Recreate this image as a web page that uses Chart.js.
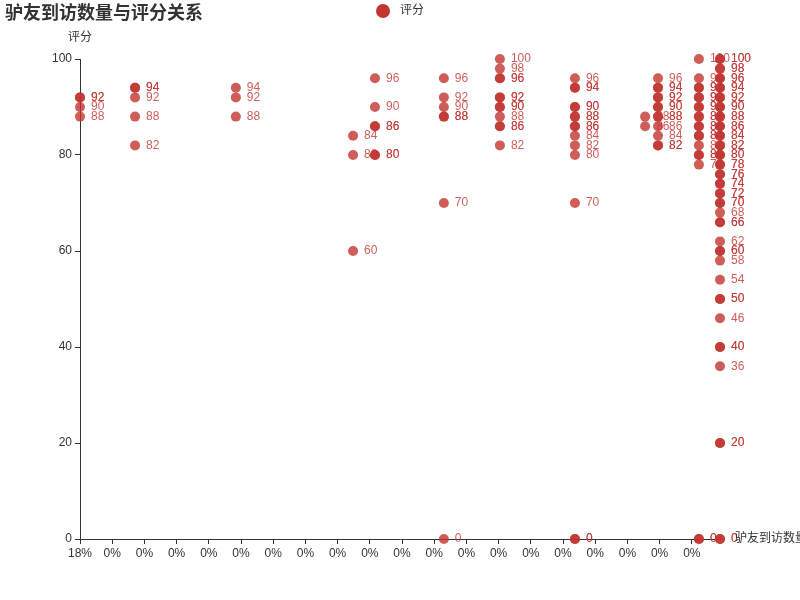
<!DOCTYPE html>
<html lang="zh">
<head>
    <meta charset="UTF-8">
    <title>驴友到访数量与评分关系</title>
    <script src="https://cdn.jsdelivr.net/npm/chart.js"></script>
    <style>
        body { margin: 0; background: #fff; }
    </style>
</head>
<body>
    <canvas id="scoreChart" width="800" height="600"></canvas>

    <script>
// x position of each column of points (in tick units), and the scores found there
const columnX = [0, 1.71, 4.84, 8.48, 9.16, 11.30, 13.04, 15.37, 17.55, 17.95, 19.22, 19.875];
const columnScores = [
    [92, 92, 90, 88],
    [94, 94, 92, 88, 82],
    [94, 92, 88],
    [84, 80, 60],
    [96, 90, 86, 86, 80, 80],
    [96, 92, 90, 88, 88, 70, 0],
    [100, 98, 96, 96, 92, 92, 90, 90, 88, 86, 86, 82],
    [96, 94, 94, 90, 90, 88, 88, 86, 86, 84, 82, 80, 70, 0, 0],
    [88, 86],
    [96, 94, 94, 92, 92, 90, 90, 88, 88, 86, 84, 82, 82],
    [100, 96, 94, 94, 92, 92, 90, 90, 88, 88, 86, 86, 84, 84, 82, 80, 80, 78, 0, 0],
    [100, 100, 98, 98, 96, 96, 94, 94, 92, 92, 90, 90, 88, 88, 86, 86, 84, 84, 82, 82,
     80, 80, 78, 78, 76, 76, 74, 74, 72, 72, 70, 70, 68, 66, 66, 62, 60, 60, 58, 54,
     50, 50, 46, 40, 40, 36, 20, 20, 0, 0]
];
const xTickLabels = ['18%', '0%', '0%', '0%', '0%', '0%', '0%', '0%', '0%', '0%',
                     '0%', '0%', '0%', '0%', '0%', '0%', '0%', '0%', '0%', '0%'];
const yTicks = [0, 20, 40, 60, 80, 100];

const red = 'rgba(194, 53, 49, 0.8)';
const textColor = '#333';
const fontFamily = '"Liberation Sans", "Noto Sans CJK SC", sans-serif';

const points = [];
columnX.forEach((x, i) => {
    columnScores[i].forEach(s => points.push({ x: x, y: s }));
});

// title, legend, axis names and value labels
const decorations = {
    id: 'decorations',
    afterDatasetsDraw(chart) {
        const ctx = chart.ctx;
        const area = chart.chartArea;
        ctx.save();

        // value labels next to each point
        ctx.font = '12px ' + fontFamily;
        ctx.fillStyle = red;
        ctx.textAlign = 'left';
        ctx.textBaseline = 'middle';
        chart.getDatasetMeta(0).data.forEach((el, i) => {
            ctx.fillText(String(points[i].y), el.x + 11, el.y);
        });

        // title
        ctx.fillStyle = textColor;
        ctx.font = 'bold 18px ' + fontFamily;
        ctx.textBaseline = 'middle';
        ctx.fillText('驴友到访数量与评分关系', 5, 14);

        // legend
        ctx.fillStyle = 'rgb(194, 53, 49)';
        ctx.beginPath();
        ctx.arc(383, 11, 7, 0, Math.PI * 2);
        ctx.fill();
        ctx.fillStyle = textColor;
        ctx.font = '12px ' + fontFamily;
        ctx.fillText('评分', 400, 11);

        // axis names
        ctx.textAlign = 'center';
        ctx.fillText('评分', area.left, 38);
        ctx.textAlign = 'left';
        ctx.fillText('驴友到访数量', area.right + 15, area.bottom);
        ctx.restore();
    }
};

const ctx = document.getElementById('scoreChart').getContext('2d');
new Chart(ctx, {
    type: 'scatter',
    data: {
        datasets: [{
            label: '评分',
            data: points,
            backgroundColor: red,
            borderWidth: 0,
            pointRadius: 5,
            pointHoverRadius: 5,
            clip: false
        }]
    },
    options: {
        responsive: false,
        animation: false,
        layout: { padding: { top: 59, right: 80, bottom: 0, left: 0 } },
        plugins: {
            legend: { display: false },
            title: { display: false },
            tooltip: { enabled: false }
        },
        scales: {
            x: {
                type: 'linear',
                min: 0,
                max: 19.875,
                afterBuildTicks: s => { s.ticks = xTickLabels.map((_, i) => ({ value: i })); },
                afterFit: s => { s.height = 61; },
                ticks: {
                    autoSkip: false,
                    maxRotation: 0,
                    padding: 2,
                    color: textColor,
                    font: { size: 12, family: fontFamily },
                    callback: (v, i) => xTickLabels[i]
                },
                grid: { drawOnChartArea: false, drawTicks: true, tickLength: 5, color: textColor },
                border: { color: textColor }
            },
            y: {
                min: 0,
                max: 100,
                afterBuildTicks: s => { s.ticks = yTicks.map(v => ({ value: v })); },
                afterFit: s => { s.width = 80; },
                ticks: {
                    padding: 3,
                    color: textColor,
                    font: { size: 12, family: fontFamily }
                },
                grid: { drawOnChartArea: false, drawTicks: true, tickLength: 5, color: textColor },
                border: { color: textColor }
            }
        }
    },
    plugins: [decorations]
});
    </script>
</body>
</html>
